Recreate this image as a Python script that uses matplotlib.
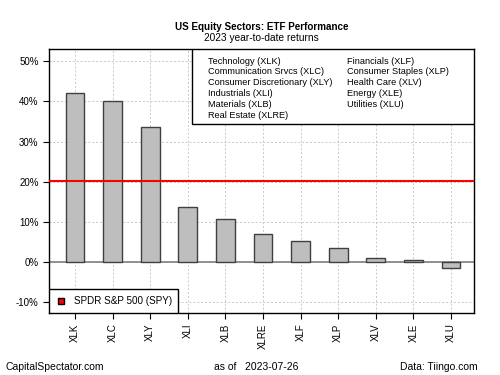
import matplotlib
matplotlib.use("Agg")
from matplotlib import pyplot as plt
from matplotlib.patches import Rectangle
from matplotlib.ticker import FuncFormatter
import numpy as np

plt.rcParams['font.family'] = ['Liberation Sans', 'DejaVu Sans']

tickers = ["XLK", "XLC", "XLY", "XLI", "XLB", "XLRE", "XLF", "XLP", "XLV", "XLE", "XLU"]
returns = [42.2, 40.0, 33.7, 13.6, 10.8, 7.1, 5.2, 3.4, 0.9, 0.5, -1.4]
spy_return = 20.2
sector_names = ["Technology (XLK)", "Communication Srvcs (XLC)", "Consumer Discretionary (XLY)",
                "Industrials (XLI)", "Materials (XLB)", "Real Estate (XLRE)",
                "Financials (XLF)", "Consumer Staples (XLP)", "Health Care (XLV)",
                "Energy (XLE)", "Utilities (XLU)"]

fig = plt.figure(figsize=(5, 3.75), dpi=100)
ax = fig.add_axes([0.098, 0.165, 0.85, 0.704])

x = np.arange(len(tickers))
ax.set_axisbelow(True)
ax.grid(True, color="#c8c8c8", linestyle=(0, (2, 2)), linewidth=0.7)
ax.axhline(0, color="#808080", linewidth=1.2, zorder=1)
ax.bar(x, returns, width=0.5, color="#bebebe", edgecolor="#404040", linewidth=1.0, zorder=2)
ax.axhline(spy_return, color="red", linewidth=1.5, zorder=3)

ax.set_xlim(-0.69, 10.61)
ax.set_ylim(-12.7, 53)
ax.set_yticks([-10, 0, 10, 20, 30, 40, 50])
ax.yaxis.set_major_formatter(FuncFormatter(lambda v, p: "%d%%" % v))
ax.set_xticks(x)
ax.set_xticklabels(tickers, rotation=90)
ax.tick_params(labelsize=7, length=4, width=0.8)
for s in ax.spines.values():
    s.set_linewidth(1.0)

# sector key, top right
ax.add_patch(Rectangle((0.336, 0.716), 0.664, 0.284, transform=ax.transAxes,
                       facecolor="white", edgecolor="black", linewidth=1.0, zorder=5))
dy = 10.8 / 264
for i, name in enumerate(sector_names):
    col, row = divmod(i, 6)
    ax.text(0.374 + col * 0.327, (313 - 61) / 264 - row * dy, name, transform=ax.transAxes,
            fontsize=6.6, va="center", ha="left", zorder=6)

# SPY key, bottom left
ax.add_patch(Rectangle((0, 0), 0.304, 0.091, transform=ax.transAxes,
                       facecolor="white", edgecolor="black", linewidth=1.0, zorder=5))
ax.plot([0.028], [0.045], marker="s", color="red", markeredgecolor="black", markersize=5,
        transform=ax.transAxes, zorder=6, clip_on=False)
ax.text(0.059, 0.045, "SPDR S&P 500 (SPY)", transform=ax.transAxes, fontsize=7.1,
        va="center", ha="left", zorder=6)

fig.text(0.523, 0.92, "US Equity Sectors: ETF Performance", ha="center", fontsize=7.1, fontweight="bold")
fig.text(0.523, 0.89, "2023 year-to-date returns", ha="center", fontsize=7.3)
fig.text(0.01, 0.012, "CapitalSpectator.com", ha="left", fontsize=7.5)
fig.text(0.513, 0.012, "as of   2023-07-26", ha="center", fontsize=7.5)
fig.text(0.956, 0.012, "Data: Tiingo.com", ha="right", fontsize=7.5)

plt.savefig("out.png", dpi=100)
